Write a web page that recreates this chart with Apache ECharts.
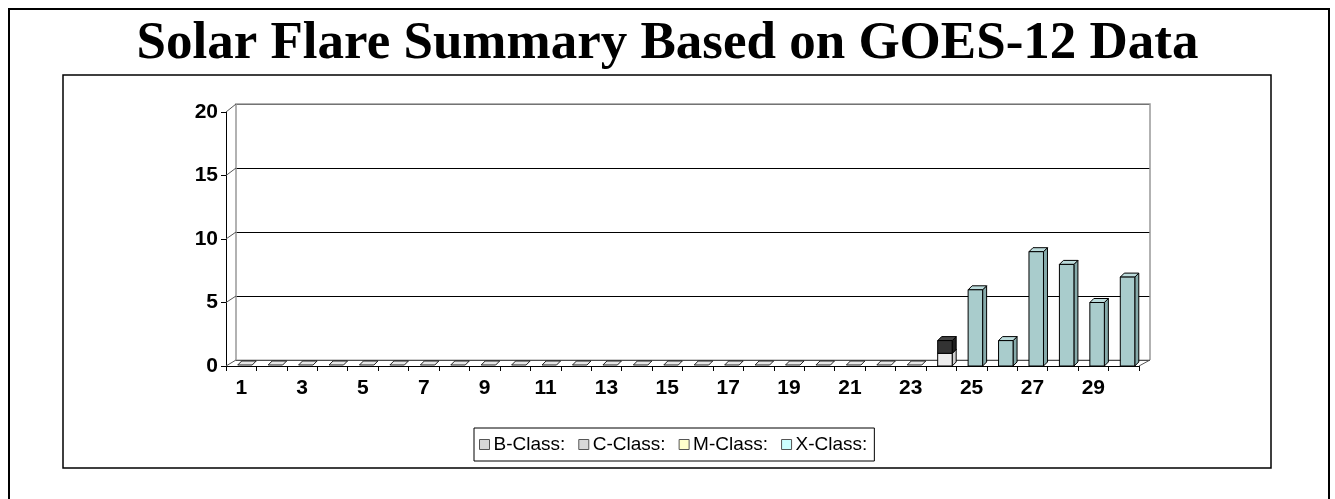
<!DOCTYPE html>
<html><head><meta charset="utf-8">
<script src="https://cdn.jsdelivr.net/npm/echarts@6/dist/echarts.min.js"></script>
<style>html,body{margin:0;padding:0;background:#fff}#c{width:1335px;height:499px}</style>
</head><body><div id="c"></div>
<script>
// ---- data ----
const titleText = 'Solar Flare Summary Based on GOES-12 Data';
const days = ['1','2','3','4','5','6','7','8','9','10','11','12','13','14','15','16','17','18','19','20','21','22','23','24','25','26','27','28','29','30'];
const bClass = [0,0,0,0,0,0,0,0,0,0,0,0,0,0,0,0,0,0,0,0,0,0,0,1,0,0,0,0,0,0];
const cClass = [0,0,0,0,0,0,0,0,0,0,0,0,0,0,0,0,0,0,0,0,0,0,0,1,0,0,0,0,0,0];
const mClass = [0,0,0,0,0,0,0,0,0,0,0,0,0,0,0,0,0,0,0,0,0,0,0,0,0,0,0,0,0,0];
const xClass = [0,0,0,0,0,0,0,0,0,0,0,0,0,0,0,0,0,0,0,0,0,0,0,0,6,2,9,8,5,7];
const yTicks = [0,5,10,15,20];
const legendNames = ['B-Class:','C-Class:','M-Class:','X-Class:'];

// ---- layout ----
const W = 1335, H = 499;
const front = {left:226, right:1139, top:112, bottom:366};
const back = {left:236, right:1150, top:104, bottom:360};
const depth = {dx:4, dy:-4, fL:-3.5, fR:11};

const seriesList = [
  {name:legendNames[0], vals:bClass, front:'#ececec', side:'#cfcfcf', top:'#f4f4f4', legend:'#d8d8d8'},
  {name:legendNames[1], vals:cClass, front:'#333333', side:'#1f1f1f', top:'#444444', legend:'#d8d8d8'},
  {name:legendNames[2], vals:mClass, front:'#ffffcc', side:'#e0e0a8', top:'#ffffdd', legend:'#ffffcc'},
  {name:legendNames[3], vals:xClass, front:'#a9cccc', side:'#86aaaa', top:'#bcdcdc', legend:'#ccffff'}
];
const totals = days.map((_, i) => seriesList.reduce((s, S) => s + S.vals[i], 0));

function barRender(sIdx) {
  const S = seriesList[sIdx];
  return function (params, api) {
    const i = api.value(0), v = api.value(1);
    if (!v) return null;
    let base = 0;
    for (let k = 0; k < sIdx; k++) base += seriesList[k].vals[i];
    const p0 = api.coord([i, base]), p1 = api.coord([i, base + v]);
    const x0 = p0[0] + depth.fL, x1 = p0[0] + depth.fR;
    const yb = p0[1], yt = p1[1], dx = depth.dx, dy = depth.dy;
    const st = {stroke:'#000', lineWidth:1};
    return {type:'group', children:[
      {type:'polygon', shape:{points:[[x1,yt],[x1+dx,yt+dy],[x1+dx,yb+dy],[x1,yb]]}, style:Object.assign({fill:S.side}, st)},
      {type:'polygon', shape:{points:[[x0,yt],[x1,yt],[x1+dx,yt+dy],[x0+dx,yt+dy]]}, style:Object.assign({fill:S.top}, st)},
      {type:'rect', shape:{x:x0, y:yt, width:x1-x0, height:yb-yt}, style:Object.assign({fill:S.front}, st)}
    ]};
  };
}
function flatRender(params, api) {
  const i = api.value(0);
  if (totals[i] !== 0) return null;
  const p = api.coord([i, 0]);
  const x0 = p[0] + depth.fL, x1 = p[0] + depth.fR, y = p[1] - 1, dx = depth.dx, dy = depth.dy;
  return {type:'polygon', shape:{points:[[x0,y],[x1,y],[x1+dx,y+dy],[x0+dx,y+dy]]},
          style:{fill:'#e6e6e6', stroke:'#222', lineWidth:1}};
}

const chart = echarts.init(document.getElementById('c'), null, {renderer:'canvas'});
const axisFont = {fontFamily:'Liberation Sans, Arial, sans-serif', fontWeight:'bold', fontSize:21, color:'#000'};

const series = seriesList.map((S, k) => ({
  name:S.name, type:'custom', xAxisIndex:1, yAxisIndex:1,
  data:days.map((d, i) => [i, S.vals[i]]),
  renderItem:barRender(k), itemStyle:{color:S.legend},
  encode:{x:0, y:1}, z:5 + k
}));
series.unshift({name:'flat', type:'custom', xAxisIndex:1, yAxisIndex:1,
  data:days.map((d, i) => [i, 0]), renderItem:flatRender, encode:{x:0, y:1}, z:4});

const option = {
  animation:false,
  backgroundColor:'#fff',
  title:{text:titleText, left:'center', top:13,
    textStyle:{fontFamily:'Liberation Serif, Times New Roman, serif', fontWeight:'bold', fontSize:53, color:'#000'}},
  legend:{
    data:seriesList.map(S => ({name:S.name, icon:'rect', itemStyle:{color:S.legend, borderColor:'#555', borderWidth:1}})),
    left:474, top:428, width:420, padding:[7, 7, 7, 5],
    borderColor:'#000', borderWidth:1, itemWidth:10, itemHeight:10, itemGap:13,
    textStyle:{fontFamily:'Liberation Sans, Arial, sans-serif', fontSize:19, color:'#000', padding:[0,0,0,-1]},
    selectedMode:false
  },
  grid:[
    {left:back.left, right:W-back.right, top:back.top, bottom:H-back.bottom, containLabel:false},
    {left:front.left, right:W-front.right, top:front.top, bottom:H-front.bottom, containLabel:false}
  ],
  xAxis:[
    {gridIndex:0, type:'category', data:days, show:false},
    {gridIndex:1, type:'category', data:days, boundaryGap:true,
     axisLine:{lineStyle:{color:'#000', width:1}},
     axisTick:{show:true, alignWithLabel:false, interval:0, length:5, lineStyle:{color:'#000'}},
     axisLabel:Object.assign({interval:1, margin:12}, axisFont),
     splitLine:{show:false}}
  ],
  yAxis:[
    {gridIndex:0, type:'value', min:0, max:20, interval:5, axisLabel:{show:false},
     axisLine:{show:false}, axisTick:{show:false},
     splitLine:{show:true, lineStyle:{color:'#000', width:1}}},
    {gridIndex:1, type:'value', min:0, max:20, interval:5,
     axisLine:{show:true, lineStyle:{color:'#000', width:1}},
     axisTick:{show:true, length:5, lineStyle:{color:'#000'}},
     axisLabel:Object.assign({margin:8}, axisFont),
     splitLine:{show:false}}
  ],
  series:series
};
chart.setOption(option);

// decoration: walls, floor, side diagonals, borders
const g = [];
const yF = v => chart.convertToPixel({yAxisIndex:1}, v);
const yB = v => chart.convertToPixel({yAxisIndex:0}, v);
g.push({type:'polyline', shape:{points:[[back.left, yB(0)], [back.left, yB(20)], [back.right, yB(20)], [back.right, yB(0)]]},
  style:{stroke:'#999', lineWidth:1.5, fill:null}, z:3});
g.push({type:'line', shape:{x1:back.left, y1:yB(0), x2:back.right, y2:yB(0)}, style:{stroke:'#999', lineWidth:1}, z:3});
g.push({type:'line', shape:{x1:front.right, y1:yF(0), x2:back.right, y2:yB(0)}, style:{stroke:'#555', lineWidth:1}, z:3});
yTicks.forEach(v => {
  g.push({type:'line', shape:{x1:front.left, y1:yF(v), x2:back.left, y2:yB(v)},
    style:{stroke:'#555', lineWidth:1}, z:3});
});
g.push({type:'rect', shape:{x:9, y:9, width:1320, height:540}, style:{fill:null, stroke:'#000', lineWidth:2}, z:10, silent:true});
g.push({type:'rect', shape:{x:63, y:75, width:1208, height:393}, style:{fill:null, stroke:'#000', lineWidth:1.5}, z:10, silent:true});
chart.setOption({graphic:g});
</script>
</body></html>
